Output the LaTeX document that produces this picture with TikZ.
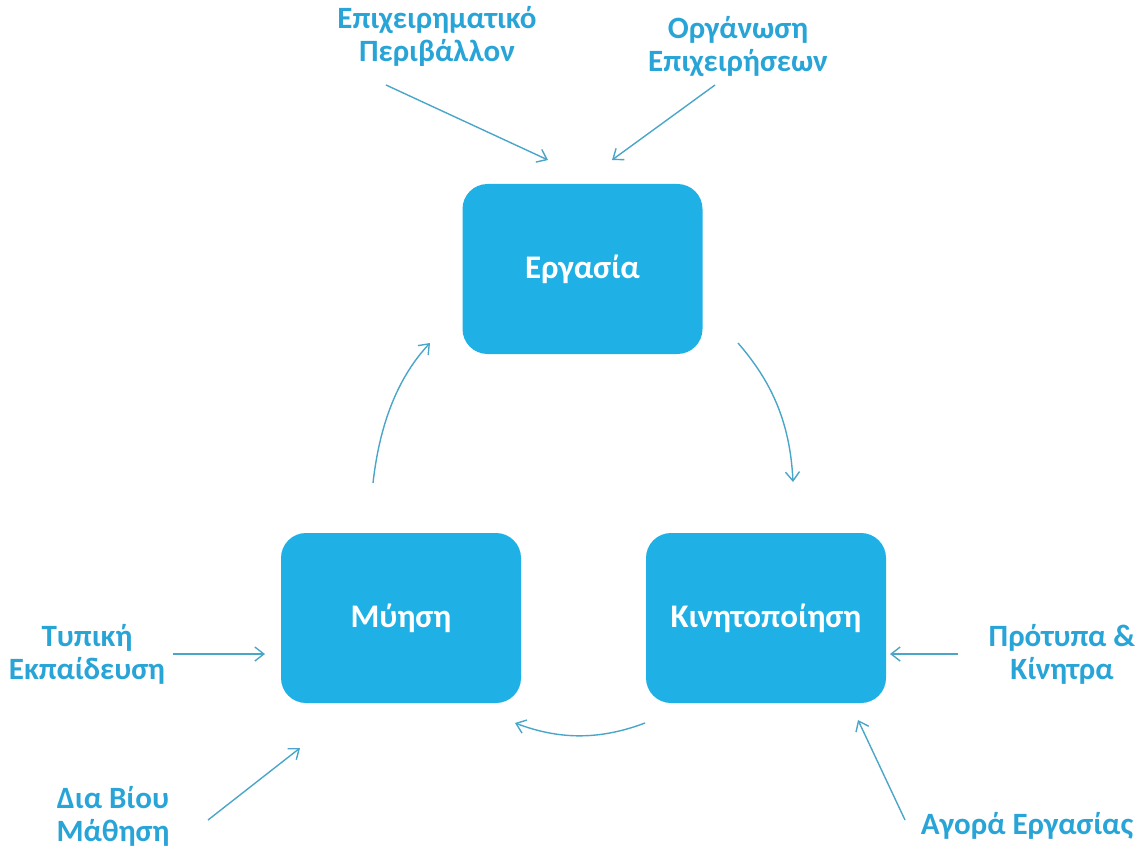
\documentclass[tikz,border=0pt]{standalone}
\usepackage{fontspec}
\setmainfont{Carlito}
\usetikzlibrary{arrows.meta}
\definecolor{boxblue}{HTML}{1FB1E6}
\definecolor{lblblue}{HTML}{29A4D7}
\definecolor{arrblue}{HTML}{4AA6C8}
\tikzset{
  box/.style={fill=boxblue, rounded corners=25pt, minimum width=240pt, minimum height=170pt, text=white, font=\bfseries\fontsize{33}{38}\selectfont, inner sep=0pt},
  lbl/.style={text=lblblue, align=center, font=\bfseries\fontsize{31}{33}\selectfont, inner sep=0pt},
  arr/.style={draw=arrblue, line width=1.4pt, -{Straight Barb[length=9pt,width=14pt,line width=1.4pt]}}
}
\begin{document}
\begin{tikzpicture}[x=1pt,y=-1pt]
\useasboundingbox (0,0) rectangle (1140,850);
\node[box] (erg) at (582.5,269) {Εργασία};
\node[box] (myi) at (401,618) {Μύηση};
\node[box] (kin) at (766,618) {Κινητοποίηση};

\node[lbl] (epi) at (437,36) {Επιχειρηματικό\\Περιβάλλον};
\node[lbl] (org) at (738,47) {Οργάνωση\\Επιχειρήσεων};
\node[lbl] (typ) at (87,654) {Τυπική\\Εκπαίδευση};
\node[lbl] (pro) at (1062,654) {Πρότυπα \&\\Κίνητρα};
\node[lbl] (dia) at (113,816) {Δια Βίου\\Μάθηση};
\node[lbl] (ago) at (1027,826) {Αγορά Εργασίας};

\coordinate (e1s) at (386,85); \coordinate (e1e) at (548,160);
\coordinate (e2s) at (715,85); \coordinate (e2e) at (612,160);
\coordinate (t1s) at (173,654); \coordinate (t1e) at (265,654);
\coordinate (p1s) at (958,654); \coordinate (p1e) at (890,654);
\coordinate (d1s) at (208,820); \coordinate (d1e) at (300,748);
\coordinate (a1s) at (905,820); \coordinate (a1e) at (858,720);

\draw[arr] (e1s) -- (e1e);
\draw[arr] (e2s) -- (e2e);
\draw[arr] (t1s) -- (t1e);
\draw[arr] (p1s) -- (p1e);
\draw[arr] (d1s) -- (d1e);
\draw[arr] (a1s) -- (a1e);

\coordinate (c1s) at (373,483); \coordinate (c1e) at (430,343);
\coordinate (c2s) at (738,343); \coordinate (c2e) at (793,482);
\coordinate (c3s) at (645,723); \coordinate (c3e) at (515,723);
\draw[arr] (c1s) .. controls (380,420) and (400,375) .. (c1e);
\draw[arr] (c2s) .. controls (770,380) and (790,420) .. (c2e);
\draw[arr] (c3s) .. controls (600,740) and (560,740) .. (c3e);
\end{tikzpicture}
\end{document}
